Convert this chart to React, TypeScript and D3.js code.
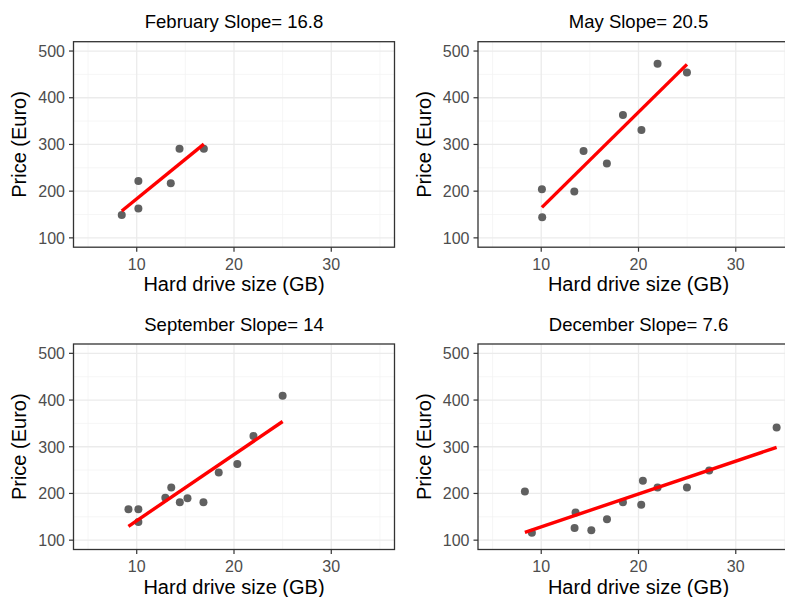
import * as d3 from 'd3'

const months = ['February', 'May', 'September', 'December']
const slopes = ['16.8', '20.5', '14', '7.6']

const febSize = [8.46, 10.17, 10.17, 13.5, 14.4, 16.9]
const febPrice = [149, 222, 163, 217, 291, 291]

const maySize = [10.07, 10.1, 13.4, 14.35, 16.75, 18.4, 20.3, 21.96, 24.98]
const mayPrice = [204, 144, 199, 286, 259, 363, 331, 473, 454]

const sepSize = [9.15, 10.17, 10.17, 12.94, 13.55, 14.43, 15.22, 16.86, 18.43, 20.34, 22.0, 25.0]
const sepPrice = [166, 166, 139, 191, 213, 181, 190, 181, 245, 263, 323, 409]

const decSize = [8.32, 9.04, 13.53, 13.43, 15.15, 16.76, 18.4, 20.28, 20.45, 21.96, 24.98, 27.27, 34.2]
const decPrice = [204, 116, 159, 126, 121, 145, 181, 176, 227, 213, 213, 249, 341]

const sizes = [febSize, maySize, sepSize, decSize]
const prices = [febPrice, mayPrice, sepPrice, decPrice]

const xTicks = [10, 20, 30]
const xMinor = [5, 15, 25, 35]
const yTicks = [100, 200, 300, 400, 500]
const yMinor = [150, 250, 350, 450]

const W = 785
const H = 597
const panelW = 321
const panelH = 205.5
const lefts = [73.5, 478]
const tops = [41.7, 344]
const font = '"Liberation Sans", Arial, Helvetica, sans-serif'

// ordinary least squares, returns [intercept, slope]
function fit(xs: number[], ys: number[]) {
  const mx = d3.mean(xs) as number
  const my = d3.mean(ys) as number
  let sxy = 0
  let sxx = 0
  xs.forEach((x, i) => {
    sxy += (x - mx) * (ys[i] - my)
    sxx += (x - mx) * (x - mx)
  })
  const b = sxy / sxx
  return [my - b * mx, b]
}

function Panel({ i }: { i: number }) {
  const left = lefts[i % 2]
  const top = tops[Math.floor(i / 2)]
  const xs = sizes[i]
  const ys = prices[i]

  const x = d3.scaleLinear().domain([3.5, 36.5]).range([0, panelW])
  const y = d3.scaleLinear().domain([80, 520]).range([panelH, 0])

  const [a, b] = fit(xs, ys)
  const ext = d3.extent(xs) as [number, number]
  const line = d3.line<number>()
    .x(d => x(d))
    .y(d => y(a + b * d))

  return (
    <g transform={`translate(${left},${top})`}>
      <rect width={panelW} height={panelH} fill="#fff" />
      {/* minor grid */}
      {xMinor.map(t => (
        <line key={'xm' + t} x1={x(t)} x2={x(t)} y1={0} y2={panelH} stroke="#f2f2f2" strokeWidth={0.7} />
      ))}
      {yMinor.map(t => (
        <line key={'ym' + t} x1={0} x2={panelW} y1={y(t)} y2={y(t)} stroke="#f2f2f2" strokeWidth={0.7} />
      ))}
      {/* major grid */}
      {xTicks.map(t => (
        <line key={'x' + t} x1={x(t)} x2={x(t)} y1={0} y2={panelH} stroke="#ebebeb" strokeWidth={1.3} />
      ))}
      {yTicks.map(t => (
        <line key={'y' + t} x1={0} x2={panelW} y1={y(t)} y2={y(t)} stroke="#ebebeb" strokeWidth={1.3} />
      ))}

      {xs.map((d, j) => (
        <circle key={j} cx={x(d)} cy={y(ys[j])} r={4} fill="#606060" />
      ))}
      <path d={line(ext) as string} stroke="#ff0000" strokeWidth={3.4} fill="none" />

      <rect width={panelW} height={panelH} fill="none" stroke="#333333" strokeWidth={1.3} />

      {/* y axis */}
      {yTicks.map(t => (
        <g key={'yt' + t}>
          <line x1={-4.5} x2={0} y1={y(t)} y2={y(t)} stroke="#333333" strokeWidth={1.2} />
          <text x={-8.5} y={y(t)} dy="0.36em" textAnchor="end" fontSize={16} fill="#4d4d4d">{t}</text>
        </g>
      ))}
      {/* x axis */}
      {xTicks.map(t => (
        <g key={'xt' + t}>
          <line x1={x(t)} x2={x(t)} y1={panelH} y2={panelH + 4.5} stroke="#333333" strokeWidth={1.2} />
          <text x={x(t)} y={panelH + 22.5} textAnchor="middle" fontSize={16} fill="#4d4d4d">{t}</text>
        </g>
      ))}

      <text x={panelW / 2} y={-13.5} textAnchor="middle" fontSize={18.5} fill="#000">
        {months[i]} Slope= {slopes[i]}
      </text>
      <text x={panelW / 2} y={panelH + 44.3} textAnchor="middle" fontSize={20} fill="#000">
        Hard drive size (GB)
      </text>
      <text
        transform={`translate(-47.5,${panelH / 2}) rotate(-90)`}
        textAnchor="middle"
        fontSize={20}
        fill="#000"
      >
        Price (Euro)
      </text>
    </g>
  )
}

export default function App() {
  return (
    <svg
      width={W}
      height={H}
      style={{ position: 'absolute', left: 0, top: 0, background: '#fff' }}
      fontFamily={font}
    >
      <rect width={W} height={H} fill="#fff" />
      {months.map((m, i) => (
        <Panel key={m} i={i} />
      ))}
    </svg>
  )
}
